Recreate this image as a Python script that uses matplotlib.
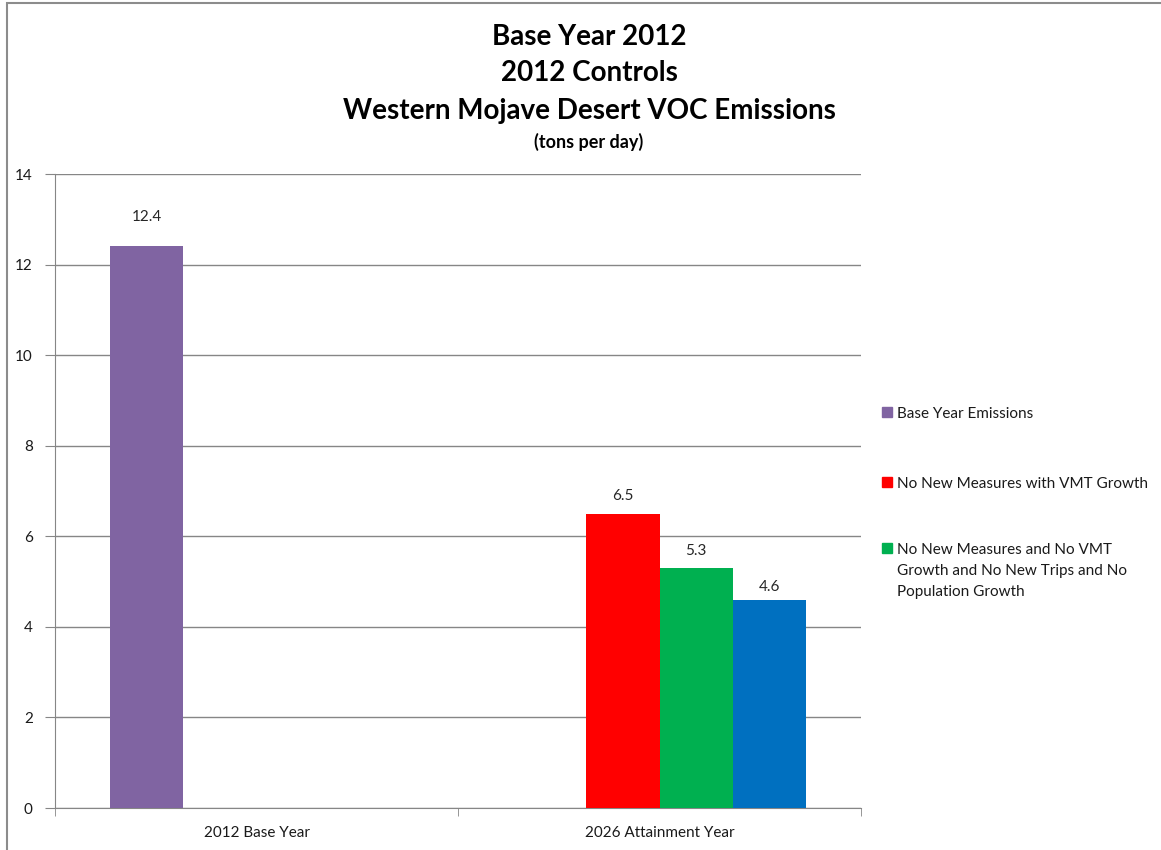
import matplotlib.pyplot as plt
from matplotlib.patches import Rectangle
import numpy as np

plt.rcParams['font.family'] = ['Lato', 'DejaVu Sans']

categories = ["2012 Base Year", "2026 Attainment Year"]
series_names = [
    "Base Year Emissions",
    "No New Measures with VMT Growth",
    "No New Measures and No VMT\nGrowth and No New Trips and No\nPopulation Growth",
    "",
]
series_values = [
    [12.4, 0.0],
    [0.0, 6.5],
    [0.0, 5.3],
    [0.0, 4.6],
]
series_colors = ["#8064A2", "#FF0000", "#00B050", "#0070C0"]
yticks = [0, 2, 4, 6, 8, 10, 12, 14]

W, H = 1161, 850
fig = plt.figure(figsize=(W / 100, H / 100), dpi=100)
ax = fig.add_axes([55 / W, 1 - 808 / H, (861 - 55) / W, (808 - 174) / H])

# chart frame (left and top edge visible)
fig.add_artist(Rectangle((7 / W, -0.1), 1.2, 1.1 - 3 / H, transform=fig.transFigure,
                         fill=False, edgecolor="#8c8c8c", linewidth=1.5))

x = np.arange(len(categories))
width = 1 / 5.5  # gap width 150%
grey = "#868686"
label_gap = [0.64, 0.38, 0.37, 0.29]  # distance of value label above bar top

for i, (vals, color) in enumerate(zip(series_values, series_colors)):
    pos = x + (i - 1.5) * width
    ax.bar(pos, vals, width=width, color=color, zorder=3)
    for p, v in zip(pos, vals):
        if v > 0:
            ax.text(p, v + label_gap[i], f"{v:.1f}", ha="center", va="center",
                    fontsize=11, color="#262626")

ax.set_xlim(-0.5, len(categories) - 0.5)
ax.set_ylim(0, 14)
ax.set_yticks(yticks)
ax.yaxis.grid(True, color=grey, linewidth=1, zorder=0)
ax.tick_params(axis="y", length=7, color=grey, labelsize=11, labelcolor="#1a1a1a", pad=9)

ax.set_xticks(x)
ax.set_xticklabels(categories)
ax.set_xticks(np.arange(len(categories) + 1) - 0.5, minor=True)
ax.tick_params(axis="x", which="major", length=0, labelsize=11, labelcolor="#1a1a1a", pad=13)
ax.tick_params(axis="x", which="minor", length=6, direction="out", color=grey)

for s in ["top", "right"]:
    ax.spines[s].set_visible(False)
for s in ["left", "bottom"]:
    ax.spines[s].set_color(grey)

# legend: square key next to the first line of each entry
legend_y = [412, 482, 548]
for name, color, ly in zip(series_names[:3], series_colors[:3], legend_y):
    fig.add_artist(Rectangle((882 / W, 1 - (ly + 5) / H), 10 / W, 10 / H,
                             transform=fig.transFigure, color=color))
    fig.text(897 / W, 1 - (ly - 5) / H, name, ha="left", va="top", fontsize=11,
             color="#1a1a1a", linespacing=1.65)

fig.text(589 / W, 1 - 37 / H, "Base Year 2012", ha="center", va="center", fontsize=20, fontweight="bold")
fig.text(589 / W, 1 - 73 / H, "2012 Controls", ha="center", va="center", fontsize=20, fontweight="bold")
fig.text(589 / W, 1 - 111 / H, "Western Mojave Desert VOC Emissions", ha="center", va="center",
         fontsize=20, fontweight="bold")
fig.text(589 / W, 1 - 142 / H, "(tons per day)", ha="center", va="center", fontsize=13, fontweight="bold")

fig.savefig("out.png", dpi=100)
